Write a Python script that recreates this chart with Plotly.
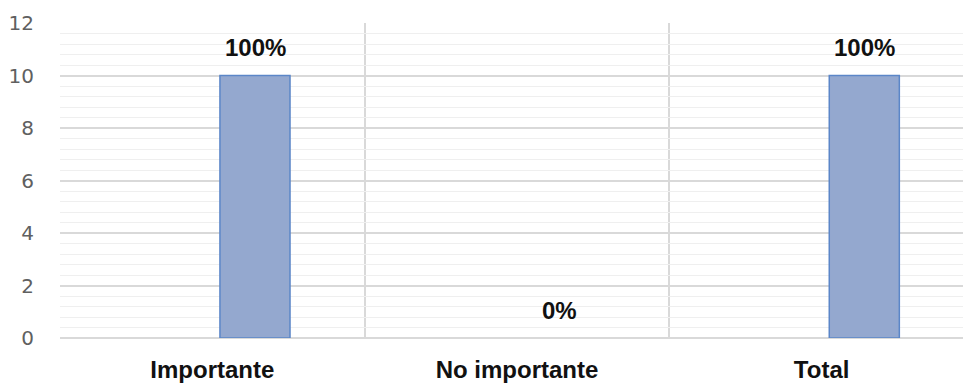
import plotly.graph_objects as go

categories = ["Importante", "No importante", "Total"]
values = [10, 0, 10]
labels = ["100%", "0%", "100%"]
ytick_vals = [0, 2, 4, 6, 8, 10, 12]

xpos = list(range(len(categories)))

fig = go.Figure()
fig.add_trace(go.Bar(
    x=xpos, y=values, width=0.23, offset=0.025,
    marker=dict(color="#94a8cf",
                line=dict(color="#5b86c8", width=[1.5 if v > 0 else 0 for v in values])),
    hoverinfo="skip",
))

for xi, v, t in zip(xpos, values, labels):
    fig.add_annotation(x=xi, y=v, xref="x", yref="y", text="<b>%s</b>" % t,
                       showarrow=False, xshift=43, yshift=28,
                       font=dict(family="Liberation Sans, Arial", size=24, color="#111111"))

fig.update_layout(
    width=963, height=383,
    margin=dict(l=60, r=0, t=23, b=45),
    paper_bgcolor="white", plot_bgcolor="white",
    showlegend=False,
    xaxis=dict(
        range=[-0.5, 2.464], tickvals=xpos,
        ticktext=["<b>%s</b>" % c for c in categories],
        showgrid=False, zeroline=False, showline=False, ticks="",
        tickfont=dict(family="Liberation Sans, Arial", size=24, color="#111111"),
        ticklabelstandoff=15,
        minor=dict(tick0=0.5, dtick=1, showgrid=True, gridcolor="#d9d9d9", gridwidth=1.5),
    ),
    yaxis=dict(
        range=[0, 12], tickvals=ytick_vals,
        showgrid=True, gridcolor="#d9d9d9", gridwidth=1.5,
        zeroline=True, zerolinecolor="#d9d9d9", zerolinewidth=1.5,
        showline=False, ticks="",
        tickfont=dict(family="DejaVu Sans", size=20, color="#606060"),
        ticklabelstandoff=25,
        minor=dict(dtick=0.4, showgrid=True, gridcolor="#efefef", gridwidth=1),
    ),
)

fig.write_html("out.html")
